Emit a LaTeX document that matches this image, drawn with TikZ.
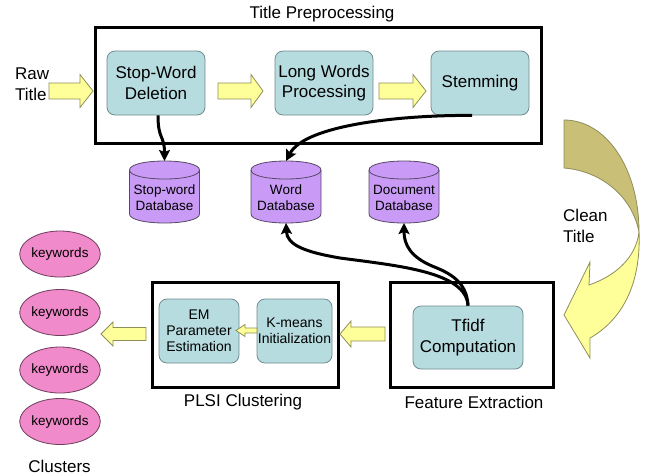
\documentclass[tikz,border=0pt]{standalone}
\usepackage{fontspec}
\setmainfont{Liberation Sans}
\usetikzlibrary{arrows.meta,shapes.geometric}
\definecolor{boxblue}{HTML}{B7DCE0}
\definecolor{boxedge}{HTML}{6F8C90}
\definecolor{yfill}{HTML}{FFFF99}
\definecolor{yedge}{HTML}{8E8E5A}
\definecolor{dbfill}{HTML}{C99BF6}
\definecolor{dbedge}{HTML}{574866}
\definecolor{kwfill}{HTML}{F08ACB}
\definecolor{kwedge}{HTML}{6E3E5C}
\definecolor{olive}{HTML}{C9BF76}
\newcommand{\bigf}{\fontsize{17}{20.5}\selectfont}
\newcommand{\smallf}{\fontsize{13.5}{16}\selectfont}
\newcommand{\midf}{\fontsize{14}{16}\selectfont}
% tail x, head-back x, tip x, centre y, shaft half height, head half height
\newcommand{\yarrow}[6]{%
  \filldraw[yarrowsty] (#1,#4-#5) -- (#2,#4-#5) -- (#2,#4-#6) -- (#3,#4)
    -- (#2,#4+#6) -- (#2,#4+#5) -- (#1,#4+#5) -- cycle;}
% name, centre x, text
\newcommand{\dbcyl}[3]{%
  \fill[dbfill] (#2-35,170) .. controls (#2-35,158) and (#2+35,158) .. (#2+35,170)
    -- (#2+35,214) .. controls (#2+35,226) and (#2-35,226) .. (#2-35,214) -- cycle;
  \draw[dbline] (#2-35,170) -- (#2-35,214) .. controls (#2-35,226) and (#2+35,226) .. (#2+35,214) -- (#2+35,170);
  \draw[dbline] (#2-35,170) .. controls (#2-35,158) and (#2+35,158) .. (#2+35,170)
    .. controls (#2+35,182) and (#2-35,182) .. (#2-35,170) -- cycle;
  \node[dbtext] (#1) at (#2,198) {#3};
  \coordinate (#1-top) at (#2,161);
  \coordinate (#1-bot) at (#2,223);}
\begin{document}
\begin{tikzpicture}[x=1pt,y=-1pt,
  proc/.style={draw=boxedge, fill=boxblue, rounded corners=8pt, line width=0.8pt,
    align=center, inner sep=0pt, font=\bigf},
  sproc/.style={proc, font=\midf},
  frame/.style={draw=black, line width=3pt, inner sep=0pt},
  lbl/.style={font=\bigf, inner sep=0pt, align=center},
  dbline/.style={draw=dbedge, line width=0.8pt},
  dbtext/.style={font=\smallf, align=center, inner sep=0pt},
  kw/.style={ellipse, draw=kwedge, fill=kwfill, line width=0.8pt, minimum width=70pt,
    minimum height=46pt, inner sep=0pt, font=\smallf},
  yarrowsty/.style={fill=yfill, draw=yedge, line width=0.8pt, line join=miter},
  flow/.style={line width=3pt, -{Stealth[length=11pt,width=11pt,inset=2pt]}}]
\useasboundingbox (0,0) rectangle (658,475);
\fill[white] (0,0) rectangle (658,475);

% frames
\node[frame, minimum width=446pt, minimum height=116pt] (tp) at (318,85) {};
\node[frame, minimum width=163pt, minimum height=105pt] (fe) at (471.5,334.5) {};
\node[frame, minimum width=186pt, minimum height=105pt] (pl) at (245,334.5) {};

% labels
\node[lbl] (tptitle) at (322,14) {Title Preprocessing};
\node[lbl, anchor=west, align=left] (raw) at (15,84) {Raw\\Title};
\node[lbl, anchor=west, align=left] (clean) at (563,226) {Clean\\Title};
\node[lbl] (pltitle) at (243,402) {PLSI Clustering};
\node[lbl] (fetitle) at (474,402) {Feature Extraction};
\node[lbl] (clusters) at (59.5,466) {Clusters};

% process boxes
\node[proc, minimum width=98pt, minimum height=64pt] (swd) at (156,83) {Stop-Word\\Deletion};
\node[proc, minimum width=98pt, minimum height=64pt] (lwp) at (324,83) {Long Words\\Processing};
\node[proc, minimum width=98pt, minimum height=64pt] (stem) at (480,83) {Stemming};
\node[proc, minimum width=110pt, minimum height=63pt] (tfidf) at (468,337.5) {Tfidf\\Computation};
\node[sproc, minimum width=80pt, minimum height=64pt] (em) at (199,331) {EM\\Parameter\\Estimation};
\node[sproc, minimum width=75pt, minimum height=64pt] (km) at (294.5,331) {K-means\\Initialization};

% databases
\dbcyl{sdb}{164.5}{Stop-word\\Database}
\dbcyl{wdb}{286}{Word\\Database}
\dbcyl{ddb}{404}{Document\\Database}

% keyword clusters
\node[kw] (k1) at (60,254) {keywords};
\node[kw] (k2) at (60,312.5) {keywords};
\node[kw] (k3) at (60,370) {keywords};
\node[kw] (k4) at (60,421.5) {keywords};

% yellow block arrows
\yarrow{49}{80}{93}{91}{8}{16.5}
\yarrow{218}{251}{263}{91}{8}{16.5}
\yarrow{379}{413}{426}{91}{8}{16.5}
\yarrow{385}{351}{340}{334}{7}{13}
\yarrow{146}{113}{101}{334}{6.5}{12}
\yarrow{257}{245}{236}{330.5}{2.5}{6}

% clean title curved arrow
\filldraw[fill=olive, draw=yedge, line width=0.8pt]
  (564,120) .. controls (606,120) and (639,168) .. (639,232)
  .. controls (632,196) and (601,171) .. (564,168) -- cycle;
\filldraw[yarrowsty]
  (639,232) .. controls (636,258) and (615,276) .. (589,285)
  -- (590,262) -- (564,315) -- (590,358) -- (590,338)
  .. controls (625,318) and (641,280) .. (639,232) -- cycle;

% black connectors
\draw[flow] ([xshift=2pt]swd.south) .. controls (158,140) and (164.5,135) .. (sdb-top);
\draw[flow] ([xshift=-8pt]stem.south) .. controls (400,115) and (305,125) .. (wdb-top);
\draw[flow] (tfidf.north) .. controls (466,272) and (400,266) .. (340,258)
  .. controls (305,252) and (287,245) .. (wdb-bot);
\draw[flow] (tfidf.north) .. controls (467,282) and (450,273) .. (432,266)
  .. controls (411,257) and (404,245) .. (ddb-bot);
\end{tikzpicture}
\end{document}
